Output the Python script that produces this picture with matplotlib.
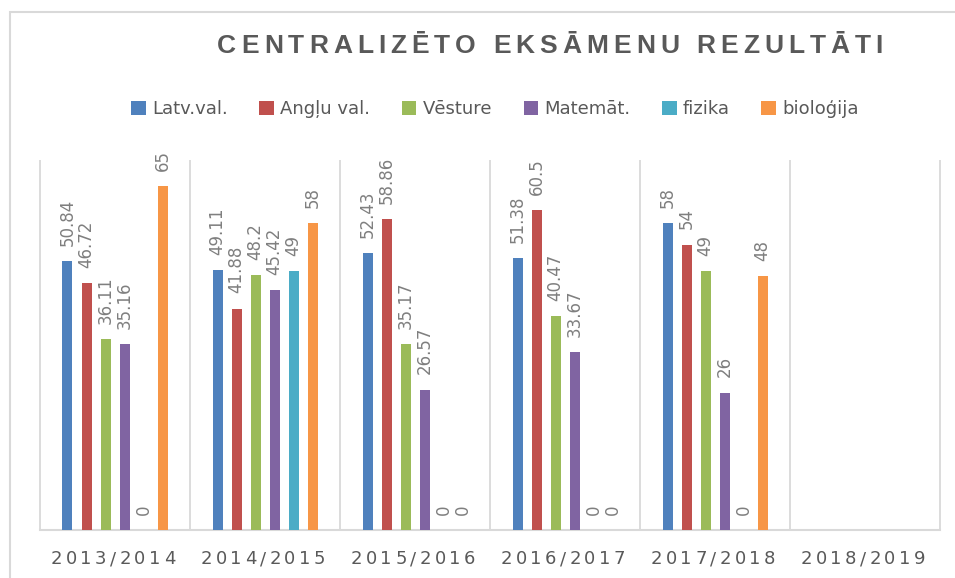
import matplotlib
matplotlib.use('Agg')
import matplotlib.pyplot as plt
import numpy as np
from matplotlib.patches import Patch, Rectangle
from matplotlib.font_manager import FontProperties

# --- data
years = ['2013/2014', '2014/2015', '2015/2016', '2016/2017', '2017/2018', '2018/2019']
subjects = ['Latv.val.', 'Angļu val.', 'Vēsture', 'Matemāt.', 'fizika', 'bioloģija']
latv = [50.84, 49.11, 52.43, 51.38, 58, np.nan]
angl = [46.72, 41.88, 58.86, 60.5, 54, np.nan]
vest = [36.11, 48.2, 35.17, 40.47, 49, np.nan]
mate = [35.16, 45.42, 26.57, 33.67, 26, np.nan]
fiz = [0, 49, 0, 0, 0, np.nan]
bio = [65, 58, 0, 0, 48, np.nan]
series = [latv, angl, vest, mate, fiz, bio]
colors = ['#4F81BD', '#C0504D', '#9BBB59', '#8064A2', '#4BACC6', '#F79646']

W, H = 955, 578
fig = plt.figure(figsize=(W / 100, H / 100), dpi=100)
ax = fig.add_axes([40 / W, 48 / H, 900 / W, 370 / H])
ax.set_xlim(-0.5, 5.5)
ax.set_ylim(0, 70)
ax.set_axis_off()

# outer chart frame (cut off on right/bottom like the screenshot)
fig.add_artist(Rectangle((10 / W, -0.1), 1.2, 1 - 12 / H + 0.1, transform=fig.transFigure,
                         fill=False, ec='#d9d9d9', lw=1.5))

# separators + baseline
ax.vlines(np.arange(-0.5, 6.0, 1), 0, 70, color='#d9d9d9', lw=1.3, clip_on=False)
ax.axhline(0, color='#d9d9d9', lw=1.5, clip_on=False)

x = np.arange(len(years))
step = 19 / 150
bw = 10 / 150
for i, (vals, c) in enumerate(zip(series, colors)):
    xs = x + (i - 2.5) * step
    ax.bar(xs, vals, width=bw, color=c, zorder=3)
    for xi, v in zip(xs, vals):
        if np.isnan(v):
            continue
        ax.annotate('%g' % v, (xi, v), xytext=(0, 11), textcoords='offset points',
                    rotation=90, ha='center', va='bottom', fontsize=12, color='#7f7f7f')


def spaced(cx, base_y, s, gap, prop, color):
    # letter-spaced text, centred on cx (pixels), baseline at base_y (pixels from top)
    r = fig.canvas.get_renderer()
    px = prop.get_size_in_points() * 100 / 72
    widths = []
    for ch in s:
        if ch == ' ':
            widths.append(0.28 * px)
        else:
            widths.append(r.get_text_width_height_descent(ch, prop, ismath=False)[0])
    total = sum(widths) + gap * (len(s) - 1)
    xx = cx - total / 2
    for ch, w in zip(s, widths):
        if ch != ' ':
            fig.text(xx / W, 1 - base_y / H, ch, fontproperties=prop, color=color,
                     ha='left', va='baseline')
        xx += w + gap


title_prop = FontProperties(family='Liberation Sans', weight='bold', size=19)
spaced(550, 53, 'CENTRALIZĒTO EKSĀMENU REZULTĀTI', 5.0, title_prop, '#595959')

tick_prop = FontProperties(family='DejaVu Sans', size=13)
for xi, lab in zip(x, years):
    cx = ax.transData.transform((xi, 0))[0]
    spaced(cx - 2, 564, lab, 3.4, tick_prop, '#595959')

handles = [Patch(facecolor=c, edgecolor='none') for c in colors]
fig.legend(handles, subjects, loc='center', bbox_to_anchor=(495 / W, 1 - 109 / H), ncol=6,
           frameon=False, fontsize=13, handlelength=0.8, handleheight=0.8,
           handletextpad=0.35, columnspacing=1.75, labelcolor='#595959')

fig.savefig('out.png', dpi=100)
